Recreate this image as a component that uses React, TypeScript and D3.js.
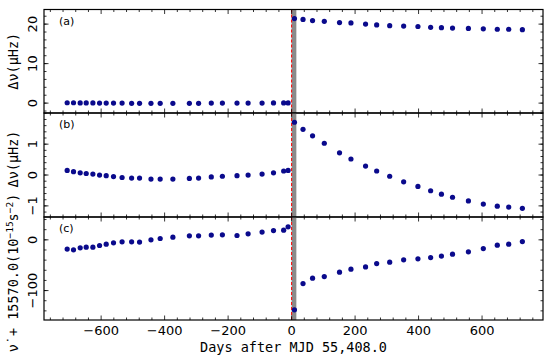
import React, { useEffect, useRef } from 'react'
import * as d3 from 'd3'

// days relative to MJD 55,408.0
const daysPre = [-707, -687, -666, -647, -626, -605, -584, -561, -534, -504, -479, -443, -414, -374, -322, -293, -253, -218, -172, -137, -93, -57, -25, -11]
const daysPost = [9, 36, 66, 103, 151, 187, 233, 268, 309, 353, 398, 438, 472, 507, 557, 604, 648, 684, 727]

// (a) frequency jump, uHz
const dnuPre = [0.1, 0.1, 0.05, 0.05, 0.05, 0.0, 0.0, 0.0, 0.0, -0.05, -0.05, -0.05, -0.05, -0.05, -0.05, -0.05, 0.0, 0.0, 0.0, 0.0, 0.0, 0.05, 0.05, 0.05]
const dnuPost = [21.4, 21.2, 20.9, 20.7, 20.4, 20.3, 20.0, 19.8, 19.6, 19.5, 19.4, 19.2, 19.1, 19.0, 18.9, 18.8, 18.7, 18.7, 18.6]

// (b) residual frequency, uHz
const resPre = [0.15, 0.11, 0.07, 0.05, 0.03, 0.0, -0.02, -0.05, -0.08, -0.1, -0.1, -0.13, -0.13, -0.13, -0.11, -0.1, -0.06, -0.04, -0.02, 0.0, 0.03, 0.07, 0.13, 0.15]
const resPost = [1.71, 1.48, 1.27, 1.03, 0.72, 0.52, 0.29, 0.13, -0.04, -0.22, -0.37, -0.51, -0.62, -0.72, -0.84, -0.94, -1.01, -1.04, -1.08]

// (c) frequency derivative offset, 1e-15 s^-2
const nudotPre = [-18.3, -19.7, -15.8, -14.4, -14.4, -11.2, -8.5, -5.9, -3.9, -3.9, -4.5, 0, 2.6, 5.3, 7.9, 7.9, 9.3, 9.9, 8.5, 11.8, 15.2, 18.3, 19.1, 25.6]
const nudotPost = [-138, -86.2, -75.5, -72.4, -63.7, -57.8, -53.3, -46.7, -44, -39.4, -37.5, -34.9, -32.1, -28.2, -23.7, -17.2, -10.5, -8.5, -3.4]

const xTicks = [-600, -400, -200, 0, 200, 400, 600]
const glitchBand = [0, 15]

const panels = [
    { tag: '(a)', pre: dnuPre, post: dnuPost, domain: [-2.5, 23.7], ticks: [0, 10, 20], minor: 2 },
    { tag: '(b)', pre: resPre, post: resPost, domain: [-1.36, 2.01], ticks: [-1, 0, 1], minor: 0.2 },
    { tag: '(c)', pre: nudotPre, post: nudotPost, domain: [-158, 45], ticks: [-100, 0], minor: 20 },
]

const App = () => {
    const ref = useRef<SVGSVGElement>(null)
    const width = 550, height = 360
    const left = 44, right = 543
    const tops = [9.5, 113, 217, 320]
    const dotColor = '#0a0a8c'

    useEffect(() => {
        const svg = d3.select(ref.current)
        svg.selectAll('*').remove()

        const x = d3.scaleLinear().domain([-780, 792]).range([left, right])
        const days = daysPre.concat(daysPost)
        const xMinor = d3.range(-760, 792, 40).filter(v => v % 200 !== 0)

        panels.forEach((p, i) => {
            const top = tops[i], bottom = tops[i + 1]
            const y = d3.scaleLinear().domain(p.domain).range([bottom, top])
            const g = svg.append('g')

            // glitch epoch band + dashed marker
            g.append('rect')
                .attr('x', x(glitchBand[0])).attr('y', top)
                .attr('width', x(glitchBand[1]) - x(glitchBand[0])).attr('height', bottom - top)
                .attr('fill', '#8a8a8a')
            g.append('line')
                .attr('x1', x(0)).attr('x2', x(0)).attr('y1', top).attr('y2', bottom)
                .attr('stroke', 'red').attr('stroke-width', 1).attr('stroke-dasharray', '3,2')

            const vals = p.pre.concat(p.post)
            g.selectAll('circle').data(days).enter().append('circle')
                .attr('cx', d => x(d))
                .attr('cy', (d, k) => y(vals[k]))
                .attr('r', 2.6)
                .attr('fill', dotColor)

            // ticks, pointing inwards on all sides
            const yMinor = d3.range(Math.ceil(p.domain[0] / p.minor) * p.minor, p.domain[1], p.minor)
            const tk = g.append('g').attr('stroke', 'black').attr('stroke-width', 0.8)
            xTicks.forEach(t => {
                tk.append('line').attr('x1', x(t)).attr('x2', x(t)).attr('y1', bottom).attr('y2', bottom - 4.5)
                tk.append('line').attr('x1', x(t)).attr('x2', x(t)).attr('y1', top).attr('y2', top + 4.5)
            })
            xMinor.forEach(t => {
                tk.append('line').attr('x1', x(t)).attr('x2', x(t)).attr('y1', bottom).attr('y2', bottom - 2.5)
                tk.append('line').attr('x1', x(t)).attr('x2', x(t)).attr('y1', top).attr('y2', top + 2.5)
            })
            p.ticks.forEach(t => {
                tk.append('line').attr('x1', left).attr('x2', left + 4.5).attr('y1', y(t)).attr('y2', y(t))
                tk.append('line').attr('x1', right).attr('x2', right - 4.5).attr('y1', y(t)).attr('y2', y(t))
            })
            yMinor.forEach(t => {
                tk.append('line').attr('x1', left).attr('x2', left + 2.5).attr('y1', y(t)).attr('y2', y(t))
                tk.append('line').attr('x1', right).attr('x2', right - 2.5).attr('y1', y(t)).attr('y2', y(t))
            })

            p.ticks.forEach(t => {
                g.append('text')
                    .attr('transform', `translate(37,${y(t)}) rotate(-90)`)
                    .attr('text-anchor', 'middle')
                    .attr('font-family', 'DejaVu Sans').attr('font-size', 13)
                    .text(d3.format('')(t).replace('-', '\u2212'))
            })

            g.append('text').attr('x', 59).attr('y', top + 15)
                .attr('font-family', 'DejaVu Sans').attr('font-size', 11)
                .text(p.tag)

            g.append('rect').attr('x', left).attr('y', top).attr('width', right - left).attr('height', bottom - top)
                .attr('fill', 'none').attr('stroke', 'black').attr('stroke-width', 1.2)
        })

        xTicks.forEach(t => {
            svg.append('text').attr('x', x(t)).attr('y', 335)
                .attr('text-anchor', 'middle')
                .attr('font-family', 'DejaVu Sans').attr('font-size', 13)
                .text(d3.format('')(t).replace('-', '\u2212'))
        })

        svg.append('text').attr('x', (left + right) / 2).attr('y', 352)
            .attr('text-anchor', 'middle')
            .attr('font-family', 'DejaVu Sans Mono').attr('font-size', 13.5)
            .text('Days after MJD 55,408.0')

        const mono = { family: 'DejaVu Sans Mono', size: 13.5 }
        const ylab = (cy: number) => svg.append('text')
            .attr('transform', `translate(18,${cy}) rotate(-90)`)
            .attr('text-anchor', 'middle')
            .attr('font-family', mono.family).attr('font-size', mono.size)

        ylab((tops[0] + tops[1]) / 2).text('\u0394\u03bd(\u03bcHz)')
        ylab(159).text('\u0394\u03bd(\u03bcHz)')
        const lc = ylab(273)
        lc.append('tspan').text('\u03bd\u0307 + 15570.0(10')
        lc.append('tspan').attr('dy', -5).attr('font-size', 9.5).text('\u221215')
        lc.append('tspan').attr('dy', 5).text('s')
        lc.append('tspan').attr('dy', -5).attr('font-size', 9.5).text('\u22122')
        lc.append('tspan').attr('dy', 5).text(')')
    }, [])

    return <svg ref={ref} width={width} height={height} style={{ position: 'absolute', left: 0, top: 0 }} />
}

export default App
